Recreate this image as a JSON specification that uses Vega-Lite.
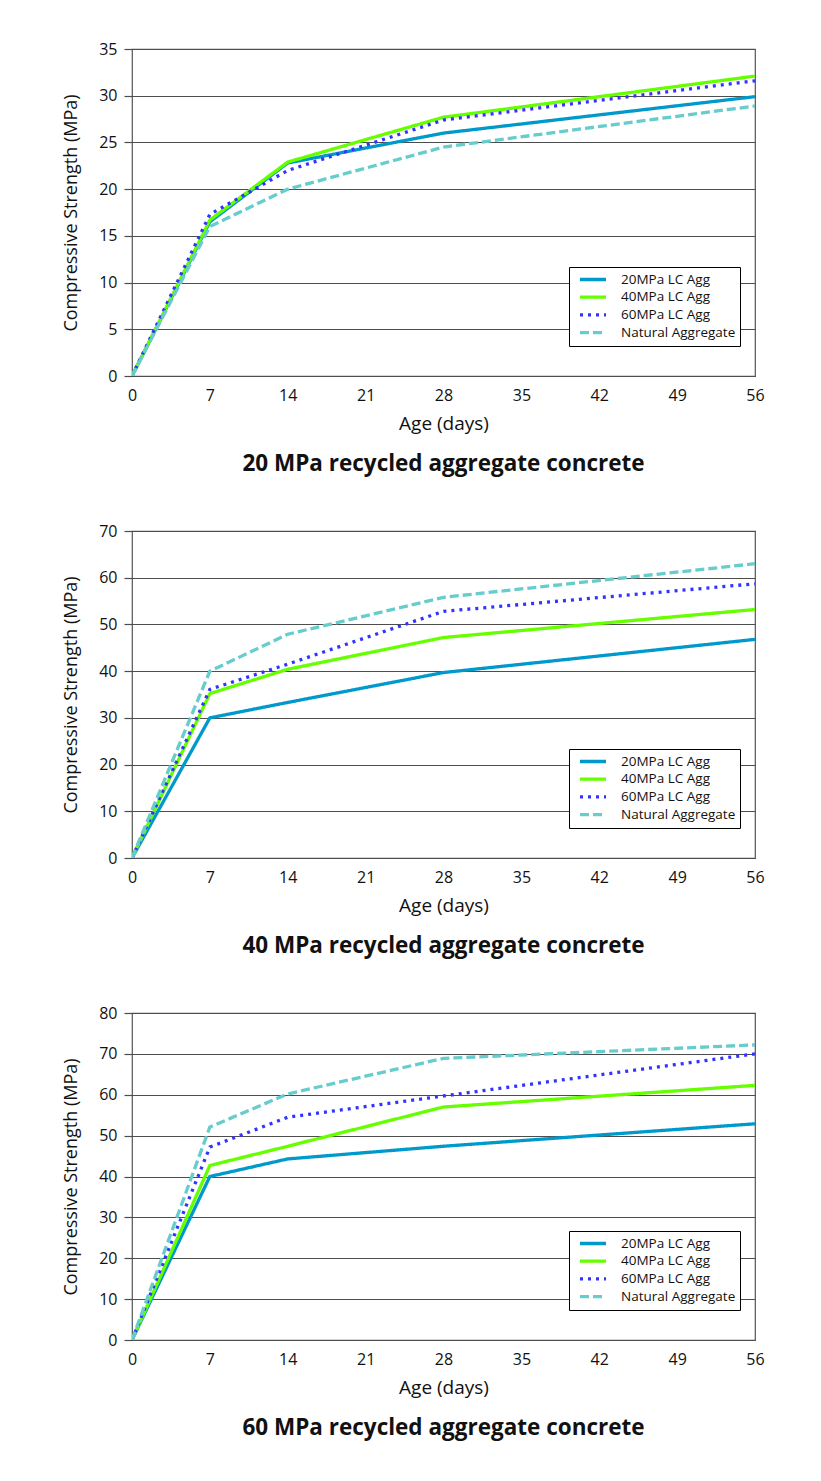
{
  "$schema": "https://vega.github.io/schema/vega-lite/v6.json",
  "background": "white",
  "padding": {"left": 62, "top": 40, "right": 56, "bottom": 40},
  "spacing": 155,
  "bounds": "flush",
  "data": {"values": [
    {"panel": "20", "series": "20MPa LC Agg", "age": 0, "strength": 0},
    {"panel": "20", "series": "20MPa LC Agg", "age": 7, "strength": 16.5},
    {"panel": "20", "series": "20MPa LC Agg", "age": 14, "strength": 22.8},
    {"panel": "20", "series": "20MPa LC Agg", "age": 28, "strength": 26.0},
    {"panel": "20", "series": "20MPa LC Agg", "age": 56, "strength": 29.9},
    {"panel": "20", "series": "40MPa LC Agg", "age": 0, "strength": 0},
    {"panel": "20", "series": "40MPa LC Agg", "age": 7, "strength": 16.7},
    {"panel": "20", "series": "40MPa LC Agg", "age": 14, "strength": 22.9},
    {"panel": "20", "series": "40MPa LC Agg", "age": 28, "strength": 27.7},
    {"panel": "20", "series": "40MPa LC Agg", "age": 56, "strength": 32.1},
    {"panel": "20", "series": "60MPa LC Agg", "age": 0, "strength": 0},
    {"panel": "20", "series": "60MPa LC Agg", "age": 7, "strength": 17.3},
    {"panel": "20", "series": "60MPa LC Agg", "age": 14, "strength": 22.0},
    {"panel": "20", "series": "60MPa LC Agg", "age": 28, "strength": 27.4},
    {"panel": "20", "series": "60MPa LC Agg", "age": 56, "strength": 31.6},
    {"panel": "20", "series": "Natural Aggregate", "age": 0, "strength": 0},
    {"panel": "20", "series": "Natural Aggregate", "age": 7, "strength": 16.0},
    {"panel": "20", "series": "Natural Aggregate", "age": 14, "strength": 20.0},
    {"panel": "20", "series": "Natural Aggregate", "age": 28, "strength": 24.5},
    {"panel": "20", "series": "Natural Aggregate", "age": 56, "strength": 28.9},
    {"panel": "40", "series": "20MPa LC Agg", "age": 0, "strength": 0},
    {"panel": "40", "series": "20MPa LC Agg", "age": 7, "strength": 30.0},
    {"panel": "40", "series": "20MPa LC Agg", "age": 14, "strength": 33.3},
    {"panel": "40", "series": "20MPa LC Agg", "age": 28, "strength": 39.7},
    {"panel": "40", "series": "20MPa LC Agg", "age": 56, "strength": 46.8},
    {"panel": "40", "series": "40MPa LC Agg", "age": 0, "strength": 0},
    {"panel": "40", "series": "40MPa LC Agg", "age": 7, "strength": 35.2},
    {"panel": "40", "series": "40MPa LC Agg", "age": 14, "strength": 40.4},
    {"panel": "40", "series": "40MPa LC Agg", "age": 28, "strength": 47.2},
    {"panel": "40", "series": "40MPa LC Agg", "age": 56, "strength": 53.2},
    {"panel": "40", "series": "60MPa LC Agg", "age": 0, "strength": 0},
    {"panel": "40", "series": "60MPa LC Agg", "age": 7, "strength": 36.1},
    {"panel": "40", "series": "60MPa LC Agg", "age": 14, "strength": 41.5},
    {"panel": "40", "series": "60MPa LC Agg", "age": 28, "strength": 52.8},
    {"panel": "40", "series": "60MPa LC Agg", "age": 56, "strength": 58.7},
    {"panel": "40", "series": "Natural Aggregate", "age": 0, "strength": 0},
    {"panel": "40", "series": "Natural Aggregate", "age": 7, "strength": 40.0},
    {"panel": "40", "series": "Natural Aggregate", "age": 14, "strength": 47.9},
    {"panel": "40", "series": "Natural Aggregate", "age": 28, "strength": 55.8},
    {"panel": "40", "series": "Natural Aggregate", "age": 56, "strength": 63.0},
    {"panel": "60", "series": "20MPa LC Agg", "age": 0, "strength": 0},
    {"panel": "60", "series": "20MPa LC Agg", "age": 7, "strength": 40.0},
    {"panel": "60", "series": "20MPa LC Agg", "age": 14, "strength": 44.3},
    {"panel": "60", "series": "20MPa LC Agg", "age": 28, "strength": 47.4},
    {"panel": "60", "series": "20MPa LC Agg", "age": 56, "strength": 52.9},
    {"panel": "60", "series": "40MPa LC Agg", "age": 0, "strength": 0},
    {"panel": "60", "series": "40MPa LC Agg", "age": 7, "strength": 42.7},
    {"panel": "60", "series": "40MPa LC Agg", "age": 14, "strength": 47.4},
    {"panel": "60", "series": "40MPa LC Agg", "age": 28, "strength": 57.0},
    {"panel": "60", "series": "40MPa LC Agg", "age": 56, "strength": 62.3},
    {"panel": "60", "series": "60MPa LC Agg", "age": 0, "strength": 0},
    {"panel": "60", "series": "60MPa LC Agg", "age": 7, "strength": 47.2},
    {"panel": "60", "series": "60MPa LC Agg", "age": 14, "strength": 54.5},
    {"panel": "60", "series": "60MPa LC Agg", "age": 28, "strength": 59.7},
    {"panel": "60", "series": "60MPa LC Agg", "age": 56, "strength": 70.0},
    {"panel": "60", "series": "Natural Aggregate", "age": 0, "strength": 0},
    {"panel": "60", "series": "Natural Aggregate", "age": 7, "strength": 52.1},
    {"panel": "60", "series": "Natural Aggregate", "age": 14, "strength": 60.2},
    {"panel": "60", "series": "Natural Aggregate", "age": 28, "strength": 68.9},
    {"panel": "60", "series": "Natural Aggregate", "age": 56, "strength": 72.2}
  ]},
  "vconcat": [
    {
      "width": 623, "height": 327,
      "title": {"text": "20 MPa recycled aggregate concrete"},
      "transform": [{"filter": "datum.panel == '20'"}],
      "mark": {"type": "line", "strokeWidth": 3.3, "clip": true},
      "encoding": {
        "x": {"field": "age", "type": "quantitative", "scale": {"domain": [0, 56], "nice": false, "zero": false},
              "axis": {"values": [0, 7, 14, 21, 28, 35, 42, 49, 56], "title": "Age (days)"}},
        "y": {"field": "strength", "type": "quantitative", "scale": {"domain": [0, 35], "nice": false},
              "axis": {"values": [0, 5, 10, 15, 20, 25, 30, 35], "title": "Compressive Strength (MPa)"}},
        "color": {"field": "series", "type": "nominal",
                  "scale": {"domain": ["20MPa LC Agg", "40MPa LC Agg", "60MPa LC Agg", "Natural Aggregate"], "range": ["#0099cc", "#66ff00", "#3333ff", "#66cccc"]},
                  "legend": {"title": null}},
        "strokeDash": {"field": "series", "type": "nominal",
                  "scale": {"domain": ["20MPa LC Agg", "40MPa LC Agg", "60MPa LC Agg", "Natural Aggregate"], "range": [[1, 0], [1, 0], [3, 5], [9, 4]]},
                  "legend": {"title": null}}
      }
    },
    {
      "width": 623, "height": 327,
      "title": {"text": "40 MPa recycled aggregate concrete"},
      "transform": [{"filter": "datum.panel == '40'"}],
      "mark": {"type": "line", "strokeWidth": 3.3, "clip": true},
      "encoding": {
        "x": {"field": "age", "type": "quantitative", "scale": {"domain": [0, 56], "nice": false, "zero": false},
              "axis": {"values": [0, 7, 14, 21, 28, 35, 42, 49, 56], "title": "Age (days)"}},
        "y": {"field": "strength", "type": "quantitative", "scale": {"domain": [0, 70], "nice": false},
              "axis": {"values": [0, 10, 20, 30, 40, 50, 60, 70], "title": "Compressive Strength (MPa)"}},
        "color": {"field": "series", "type": "nominal",
                  "scale": {"domain": ["20MPa LC Agg", "40MPa LC Agg", "60MPa LC Agg", "Natural Aggregate"], "range": ["#0099cc", "#66ff00", "#3333ff", "#66cccc"]},
                  "legend": {"title": null}},
        "strokeDash": {"field": "series", "type": "nominal",
                  "scale": {"domain": ["20MPa LC Agg", "40MPa LC Agg", "60MPa LC Agg", "Natural Aggregate"], "range": [[1, 0], [1, 0], [3, 5], [9, 4]]},
                  "legend": {"title": null}}
      }
    },
    {
      "width": 623, "height": 327,
      "title": {"text": "60 MPa recycled aggregate concrete"},
      "transform": [{"filter": "datum.panel == '60'"}],
      "mark": {"type": "line", "strokeWidth": 3.3, "clip": true},
      "encoding": {
        "x": {"field": "age", "type": "quantitative", "scale": {"domain": [0, 56], "nice": false, "zero": false},
              "axis": {"values": [0, 7, 14, 21, 28, 35, 42, 49, 56], "title": "Age (days)"}},
        "y": {"field": "strength", "type": "quantitative", "scale": {"domain": [0, 80], "nice": false},
              "axis": {"values": [0, 10, 20, 30, 40, 50, 60, 70, 80], "title": "Compressive Strength (MPa)"}},
        "color": {"field": "series", "type": "nominal",
                  "scale": {"domain": ["20MPa LC Agg", "40MPa LC Agg", "60MPa LC Agg", "Natural Aggregate"], "range": ["#0099cc", "#66ff00", "#3333ff", "#66cccc"]},
                  "legend": {"title": null}},
        "strokeDash": {"field": "series", "type": "nominal",
                  "scale": {"domain": ["20MPa LC Agg", "40MPa LC Agg", "60MPa LC Agg", "Natural Aggregate"], "range": [[1, 0], [1, 0], [3, 5], [9, 4]]},
                  "legend": {"title": null}}
      }
    }
  ],
  "resolve": {"scale": {"y": "independent", "color": "independent", "strokeDash": "independent"}, "legend": {"color": "independent", "strokeDash": "independent"}},
  "config": {
    "font": "Open Sans",
    "view": {"stroke": "#555555", "strokeWidth": 1.2},
    "axis": {
      "labelFont": "Open Sans", "labelFontSize": 16, "labelColor": "#111111",
      "titleFont": "Open Sans", "titleFontWeight": "normal", "titleColor": "#111111",
      "labelFlush": false, "labelOverlap": false, "domain": false
    },
    "axisX": {
      "grid": true, "gridColor": "#333333", "gridWidth": 1.2,
      "gridOpacity": {"condition": {"test": "datum.value == 7 || datum.value == 28", "value": 1}, "value": 0},
      "ticks": true, "tickSize": 4, "tickColor": "#333333", "tickWidth": 1.2,
      "tickOpacity": {"condition": {"test": "datum.value == 0 || datum.value == 7 || datum.value == 28 || datum.value == 56", "value": 1}, "value": 0},
      "labelPadding": 7, "titlePadding": 11, "titleFontSize": 19
    },
    "axisY": {
      "grid": true, "gridColor": "#4d4d4d", "gridWidth": 1.2,
      "ticks": true, "tickSize": 8, "tickColor": "#4d4d4d", "tickWidth": 1.2,
      "labelPadding": 7, "titlePadding": 18, "titleFontSize": 18
    },
    "legend": {
      "orient": "none", "legendX": 437, "legendY": 218,
      "strokeColor": "#000000", "fillColor": "white", "padding": 4,
      "labelFont": "Open Sans", "labelFontSize": 13.5, "labelColor": "#111111",
      "symbolType": "stroke", "symbolSize": 676, "symbolStrokeWidth": 3.3, "symbolOffset": 5,
      "clipHeight": 17, "rowPadding": 0.7, "labelOffset": 13
    },
    "title": {
      "orient": "bottom", "anchor": "middle", "frame": "group",
      "font": "Open Sans", "fontSize": 22.5, "fontWeight": "bold", "color": "#111111", "offset": 20
    }
  }
}
